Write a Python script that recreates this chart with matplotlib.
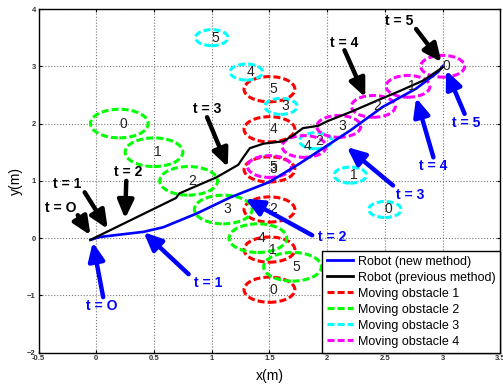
import matplotlib.pyplot as plt
from matplotlib.patches import Ellipse
from matplotlib.lines import Line2D

plt.rcParams['font.family'] = ['Liberation Sans', 'DejaVu Sans']

# robot trajectories
new_x = [-0.05, 0.03, 0.41, 0.58, 0.87, 1.16, 1.5, 1.76, 2.2, 2.48, 2.77, 2.96, 3.0]
new_y = [-0.03, 0.02, 0.11, 0.19, 0.43, 0.71, 0.98, 1.30, 1.88, 2.29, 2.61, 2.90, 3.0]
prev_x = [-0.05, 0.69, 0.72, 0.81, 1.04, 1.23, 1.27, 1.33, 1.45, 1.62, 1.71, 1.79,
          1.92, 2.0, 2.2, 2.43, 2.63, 2.83, 3.0]
prev_y = [-0.03, 0.70, 0.78, 0.86, 1.06, 1.28, 1.40, 1.57, 1.65, 1.69, 1.80, 1.92,
          1.96, 2.04, 2.2, 2.40, 2.57, 2.75, 2.98]

# moving obstacles, positions at t = 0..5
steps = ['0', '1', '2', '3', '4', '5']
obs1_x = [1.5, 1.5, 1.5, 1.5, 1.5, 1.5]
obs1_y = [-0.9, -0.2, 0.5, 1.2, 1.9, 2.6]
obs2_x = [0.2, 0.5, 0.8, 1.1, 1.4, 1.7]
obs2_y = [2.0, 1.5, 1.0, 0.5, 0.0, -0.5]
obs3_x = [2.5, 2.2, 1.9, 1.6, 1.3, 1.0]
obs3_y = [0.5, 1.1, 1.7, 2.3, 2.9, 3.5]
obs4_x = [3.0, 2.7, 2.4, 2.1, 1.8, 1.5]
obs4_y = [3.0, 2.65, 2.3, 1.95, 1.6, 1.25]

# time annotations: label position, arrow tail, arrow tip
t_labels = ['t = O', 't = 1', 't = 2', 't = 3', 't = 4', 't = 5']
prev_text = [(-0.31, 0.52), (-0.25, 0.94), (0.28, 1.15), (0.96, 2.26), (2.15, 3.40), (2.62, 3.79)]
prev_tail = [(-0.16, 0.40), (-0.10, 0.80), (0.26, 1.00), (0.96, 2.11), (2.15, 3.28), (2.77, 3.65)]
prev_tip = [(-0.05, 0.05), (0.10, 0.16), (0.25, 0.34), (1.14, 1.24), (2.33, 2.46), (2.99, 3.07)]
new_text = [(0.05, -1.19), (0.97, -0.79), (2.04, 0.02), (2.72, 0.76), (2.92, 1.26), (3.20, 2.01)]
new_tail = [(0.06, -1.03), (0.80, -0.63), (1.87, 0.05), (2.57, 0.92), (2.92, 1.41), (3.19, 2.17)]
new_tip = [(-0.03, -0.07), (0.41, 0.105), (1.29, 0.69), (2.17, 1.59), (2.77, 2.45), (3.03, 2.93)]

fig = plt.figure(figsize=(5.03, 3.88), dpi=100)
ax = fig.add_axes([38.5 / 503, 35.3 / 388, 461.9 / 503, 343.7 / 388])

dash = (0, (2.3, 1.0))
obstacles = [
    (obs1_x, obs1_y, 'red', 0.22, 'Moving obstacle 1'),
    (obs2_x, obs2_y, 'lime', 0.25, 'Moving obstacle 2'),
    (obs3_x, obs3_y, 'cyan', 0.14, 'Moving obstacle 3'),
    (obs4_x, obs4_y, 'magenta', 0.19, 'Moving obstacle 4'),
]
for xs, ys, col, r, name in obstacles:
    for x, y, s in zip(xs, ys, steps):
        ax.add_patch(Ellipse((x, y), 2 * r, 2 * r, fill=False, edgecolor=col,
                             linewidth=2.2, linestyle=dash, zorder=2))
        ax.text(x, y, s, ha='left', va='center', fontsize=10, color='#222222', zorder=4)

ax.plot(new_x, new_y, color='blue', linewidth=1.9, zorder=3)
ax.plot(prev_x, prev_y, color='black', linewidth=1.6, zorder=3)

def arrows(texts, tails, tips, col):
    for lab, tp, tl, tip in zip(t_labels, texts, tails, tips):
        ax.annotate('', xy=tip, xytext=tl, zorder=5,
                    arrowprops=dict(arrowstyle='-|>,head_length=0.9,head_width=0.4',
                                    mutation_scale=12, lw=3.2, color=col,
                                    shrinkA=0, shrinkB=0))
        ax.text(tp[0], tp[1], lab, ha='center', va='center', fontsize=10,
                fontweight='bold', color=col, zorder=5)

arrows(prev_text, prev_tail, prev_tip, 'black')
arrows(new_text, new_tail, new_tip, 'blue')

ax.set_xlim(-0.5, 3.5)
ax.set_ylim(-2, 4)
ax.set_xticks([-0.5, 0, 0.5, 1, 1.5, 2, 2.5, 3, 3.5])
ax.set_xticklabels(['-0.5', '0', '0.5', '1', '1.5', '2', '2.5', '3', '3.5'])
ax.set_yticks([-2, -1, 0, 1, 2, 3, 4])
ax.tick_params(direction='in', length=2.5, width=0.8, labelsize=5.5, pad=2,
               top=True, right=True, labelcolor='#333333')
for lab in ax.get_xticklabels() + ax.get_yticklabels():
    lab.set_fontweight('bold')
ax.grid(True, linestyle=':', color='#777777', linewidth=0.8)
ax.set_axisbelow(True)
for sp in ax.spines.values():
    sp.set_linewidth(1.0)

ax.set_xlabel('x(m)', fontsize=10)
ax.xaxis.set_label_coords(0.5, -0.047)
ax.set_ylabel('y(m)', fontsize=10)
ax.yaxis.set_label_coords(-0.034, 0.5)

handles = [Line2D([], [], color='blue', lw=2),
           Line2D([], [], color='black', lw=2)]
labels = ['Robot (new method)', 'Robot (previous method)']
for xs, ys, col, r, name in obstacles:
    handles.append(Line2D([], [], color=col, lw=2.2, linestyle=dash))
    labels.append(name)
leg = ax.legend(handles, labels, loc='lower right', bbox_to_anchor=(1, 0),
                borderaxespad=0, fancybox=False, edgecolor='black', framealpha=1,
                fontsize=9, handlelength=2.1, labelspacing=0.32, borderpad=0.4,
                handletextpad=0.35)
leg.get_frame().set_linewidth(1.0)
leg.set_zorder(6)

fig.savefig('out.png', dpi=100)
